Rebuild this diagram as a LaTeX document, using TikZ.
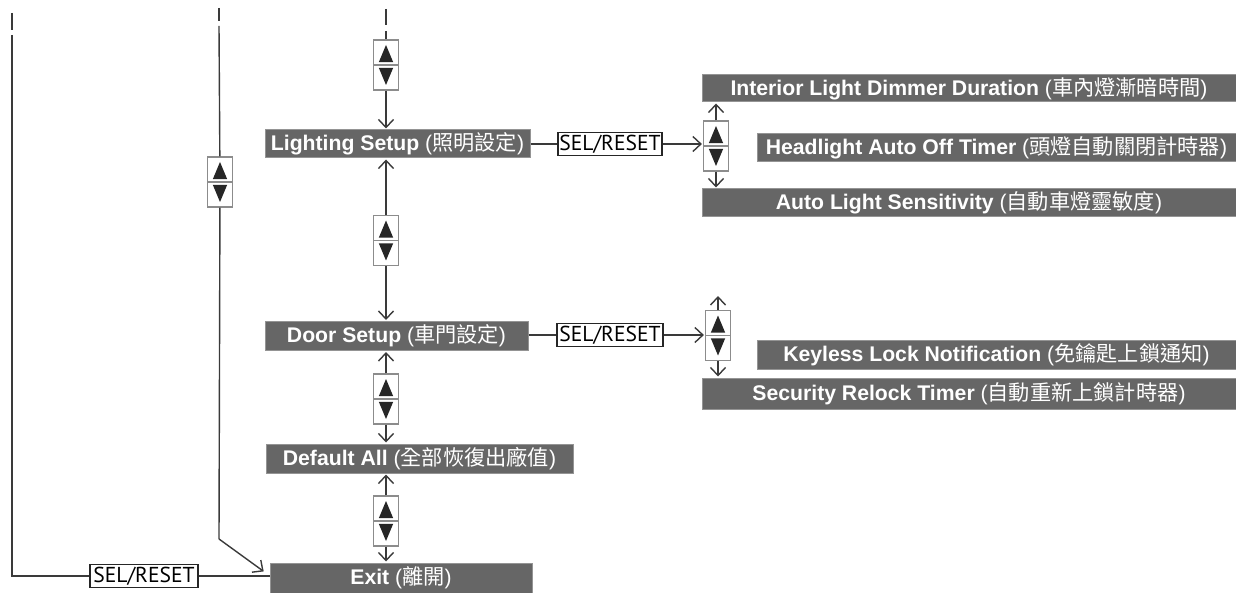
\documentclass[tikz,border=0pt]{standalone}
\usepackage{fontspec}
\setmainfont{Liberation Sans}
\newfontfamily\cjk{Noto Sans CJK TC}
\newfontfamily\selfont{PT Sans}
\usetikzlibrary{arrows.meta}
\definecolor{barGray}{HTML}{666666}
\definecolor{lineGray}{HTML}{3A3A3A}
\definecolor{frameGray}{HTML}{8C8C8C}
\tikzset{
  every node/.style={font=\fontsize{10.6}{12}\selectfont},
  ln/.style={draw=lineGray, line width=0.7pt},
  arr/.style={ln, -{Straight Barb[length=4pt, width=7.5pt]}, shorten >=0.5pt},
  bar/.style={fill=barGray, draw=barGray!70!white, text=white, inner sep=0pt, line width=0.5pt},
  selbox/.style={draw=black!85, fill=white, line width=0.6pt, inner sep=0pt, minimum height=11.5pt,
                 font=\selfont\fontsize{10.8}{12}\selectfont},
  updn/.style={draw=frameGray, fill=white, line width=0.6pt, minimum width=12.5pt, minimum height=25pt, inner sep=0pt,
    path picture={
      \draw[frameGray, line width=0.6pt] (path picture bounding box.west) -- (path picture bounding box.east);
      \fill[black!85, shift={(path picture bounding box.center)}]
        (-3.6pt,1.4pt) -- (3.6pt,1.4pt) -- (0pt,10pt) -- cycle
        (-3.6pt,-1.4pt) -- (3.6pt,-1.4pt) -- (0pt,-10pt) -- cycle;
    }},
}
\newcommand{\menu}[2]{\textbf{#1} ({\cjk #2})}

\begin{document}
\begin{tikzpicture}[x=0.5pt, y=-0.5pt]
  \useasboundingbox (0,0) rectangle (1236,593);
  % main menu column
  \node[bar, minimum width=132.5pt, minimum height=14pt] (light) at (397.5,144) {\menu{Lighting Setup}{照明設定}};
  \node[bar, minimum width=131.5pt, minimum height=14.5pt] (door) at (396.5,336) {\menu{Door Setup}{車門設定}};
  \node[bar, minimum width=153.5pt, minimum height=14.5pt] (default) at (419.5,458.5) {\menu{Default All}{全部恢復出廠值}};
  \node[bar, minimum width=131pt, minimum height=15pt] (exit) at (401,578) {\menu{Exit}{離開}};
  \node[updn] (u1) at (386,65) {};
  \node[updn] (u2) at (386,240.5) {};
  \node[updn] (u3) at (386,399) {};
  \node[updn] (u6) at (386,521) {};
  \coordinate (coltop) at (386,31);
  \draw[ln] (386,9) -- (386,25);
  \draw[ln] (coltop) -- (u1);
  \draw[arr] (u1) -- (u1 |- light.north);
  \draw[arr] (u2) -- (u2 |- light.south);
  \draw[arr] (u2) -- (u2 |- door.north);
  \draw[arr] (u3) -- (u3 |- door.south);
  \draw[arr] (u3) -- (u3 |- default.north);
  \draw[arr] (u6) -- (u6 |- default.south);
  \draw[arr] (u6) -- (u6 |- exit.north);
  % lighting submenu
  \node[selbox, minimum width=52pt] (sel1) at (610,144) {SEL/RESET};
  \node[updn] (u4) at (716,146) {};
  \node[bar, minimum width=267pt, minimum height=13.5pt] (interior) at (969,88.5) {\menu{Interior Light Dimmer Duration}{車內燈漸暗時間}};
  \node[bar, minimum width=239.5pt, minimum height=14pt] (headlight) at (996.5,148) {\menu{Headlight Auto Off Timer}{頭燈自動關閉計時器}};
  \node[bar, minimum width=267pt, minimum height=14pt] (auto) at (969,203) {\menu{Auto Light Sensitivity}{自動車燈靈敏度}};
  \draw[ln] (light) -- (sel1);
  \draw[arr] (sel1.east) -- (sel1.east -| u4.west);
  \draw[arr] (u4) -- (u4 |- interior.south);
  \draw[arr] (u4) -- (u4 |- auto.north);
  % door submenu
  \node[selbox, minimum width=53pt] (sel2) at (610,335) {SEL/RESET};
  \node[updn] (u5) at (718,335.5) {};
  \node[bar, minimum width=239.5pt, minimum height=14.5pt] (keyless) at (996.5,354.5) {\menu{Keyless Lock Notification}{免鑰匙上鎖通知}};
  \node[bar, minimum width=267pt, minimum height=15.5pt] (security) at (969,393.5) {\menu{Security Relock Timer}{自動重新上鎖計時器}};
  \coordinate (u5top) at (718,295);
  \draw[ln] (door.east |- sel2) -- (sel2);
  \draw[arr] (sel2.east) -- (sel2.east -| u5.west);
  \draw[arr] (u5) -- (u5top);
  \draw[arr] (u5) -- (u5 |- security.north);
  % return lines
  \node[updn] (um) at (220,182) {};
  \node[selbox, minimum width=54pt] (sel3) at (144,576) {SEL/RESET};
  \coordinate (midtop) at (219,26);
  \coordinate (midbend) at (219,539);
  \coordinate (lefttop) at (12,35);
  \draw[ln] (219,8) -- (219,21);
  \draw[ln] (12,13) -- (12,30);
  \draw[ln] (midtop) -- (um);
  \draw[ln] (um) -- (midbend);
  \draw[arr] (midbend) -- ([shift={(-2.5pt,3pt)}]exit.west);
  \draw[ln] (lefttop) |- (sel3);
  \draw[ln] (sel3) -- (sel3 -| exit.west);
\end{tikzpicture}
\end{document}
